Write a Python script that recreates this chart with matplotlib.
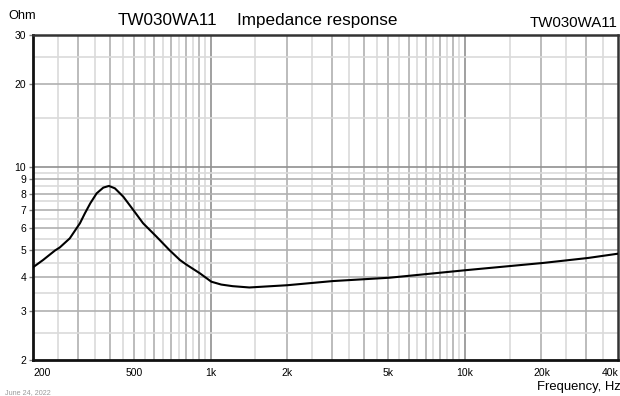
import numpy as np
import matplotlib.pyplot as plt
from matplotlib.ticker import FixedLocator, NullLocator

plt.rcParams['font.family'] = ['Liberation Sans', 'DejaVu Sans']

# impedance curve
freq = [200, 219, 244, 255, 279, 306, 320, 336, 356, 378, 398, 420, 453, 474, 496,
        542, 612, 688, 757, 802, 906, 1006, 1100, 1220, 1419, 2006, 3014, 5050,
        10150, 20300, 30500, 40000]
ohm = [4.33, 4.60, 4.98, 5.11, 5.51, 6.25, 6.79, 7.38, 8.02, 8.41, 8.53, 8.36, 7.80, 7.38, 6.98,
       6.25, 5.59, 5.00, 4.60, 4.43, 4.12, 3.84, 3.75, 3.70, 3.66, 3.73, 3.86, 3.97,
       4.23, 4.49, 4.68, 4.85]

x_ticks = [200, 500, 1000, 2000, 5000, 10000, 20000, 40000]
x_labels = ['200', '500', '1k', '2k', '5k', '10k', '20k', '40k']
y_ticks = [2, 3, 4, 5, 6, 7, 8, 9, 10, 20, 30]

fig = plt.figure(figsize=(6.2, 3.96), dpi=100)
ax = fig.add_axes([33 / 620, 1 - 360 / 396, 585 / 620, 325 / 396])
ax.set_xscale('log')
ax.set_yscale('log')
ax.set_xlim(200, 40000)
ax.set_ylim(2, 30)

# grid: integer multiples medium grey, half steps light grey
for dec in [100, 1000, 10000]:
    for m in np.arange(1, 10, 0.5):
        f = m * dec
        if f <= 200 or f >= 40000:
            continue
        if m == 1:
            c = '#909090'
        elif m == int(m):
            c = '#b0b0b0'
        else:
            c = '#dadada'
        ax.axvline(f, color=c, lw=1.2, zorder=1)
for dec in [1, 10]:
    for m in np.arange(1, 10, 0.5):
        v = m * dec
        if v <= 2 or v >= 30:
            continue
        if m == 1:
            c = '#909090'
        elif m == int(m):
            c = '#b0b0b0'
        else:
            c = '#dadada'
        ax.axhline(v, color=c, lw=1.2, zorder=1)

ax.plot(freq, ohm, color='black', lw=1.5, zorder=3, solid_joinstyle='round')

ax.xaxis.set_major_locator(FixedLocator(x_ticks))
ax.xaxis.set_minor_locator(NullLocator())
ax.set_xticklabels(x_labels, fontsize=7.5)
ax.tick_params(axis='x', length=0, pad=6)
labels = ax.get_xticklabels()
labels[0].set_ha('left')
labels[-1].set_ha('right')

ax.yaxis.set_major_locator(FixedLocator(y_ticks))
ax.yaxis.set_minor_locator(NullLocator())
ax.set_yticklabels([str(v) for v in y_ticks], fontsize=7.5)
ax.tick_params(axis='y', length=3, width=1, color='#808080', pad=2)

for s in ['left', 'bottom']:
    ax.spines[s].set_linewidth(2)
    ax.spines[s].set_color('#111111')
for s in ['top', 'right']:
    ax.spines[s].set_linewidth(1.8)
    ax.spines[s].set_color('#333333')

fig.text(8 / 620, 1 - 19 / 396, 'Ohm', fontsize=9.2, ha='left', va='baseline')
fig.text(118 / 620, 1 - 25 / 396, 'TW030WA11', fontsize=12.3, ha='left', va='baseline')
fig.text(237 / 620, 1 - 25 / 396, 'Impedance response', fontsize=12.3, ha='left', va='baseline')
fig.text(618 / 620, 1 - 27 / 396, 'TW030WA11', fontsize=10.8, ha='right', va='baseline')
fig.text(621 / 620, 1 - 390 / 396, 'Frequency, Hz', fontsize=9.4, ha='right', va='baseline')
fig.text(5 / 620, 1 - 394 / 396, 'June 24, 2022', fontsize=5.2, color='#9a9a9a',
         ha='left', va='baseline')

fig.savefig('out.png', dpi=100)
